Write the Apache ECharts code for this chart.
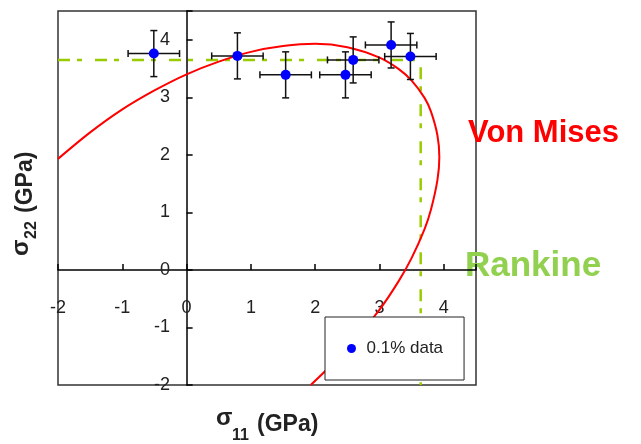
<!DOCTYPE html>
<html><head><meta charset="utf-8">
<script src="https://cdn.jsdelivr.net/npm/echarts@6/dist/echarts.min.js"></script>
<style>html,body{margin:0;padding:0;background:#fff}#c{width:641px;height:444px}</style>
</head><body><div id="c"></div>
<script>
// Measured data (sigma11, sigma22 in GPa) with error bars
const dataX = [-0.51, 0.79, 1.54, 2.47, 2.59, 3.18, 3.48];
const dataY = [3.76, 3.72, 3.39, 3.39, 3.65, 3.91, 3.71];
const errX  = [0.40, 0.40, 0.40, 0.40, 0.40, 0.40, 0.40];
const errY  = [0.40, 0.40, 0.40, 0.40, 0.40, 0.40, 0.40];

// Von Mises curve
const vonMisesX = [-2, -1.5, -1, -0.5, 0, 0.5, 1, 1.5, 2, 2.5, 3, 3.3, 3.5, 3.7, 3.8, 3.9, 3.93, 3.9, 3.8, 3.7, 3.5, 3.3, 3, 2.5, 1.93];
const vonMisesY = [1.93, 2.39, 2.79, 3.12, 3.40, 3.62, 3.79, 3.89, 3.93, 3.87, 3.69, 3.49, 3.29, 2.99, 2.75, 2.34, 1.96, 1.56, 1.05, 0.71, 0.21, -0.19, -0.69, -1.37, -2.0];

// Rankine criterion
const rankineX = [-2, 3.64, 3.64];
const rankineY = [3.65, 3.65, -2];

const legendName = '0.1% data';
const FONT = '"Liberation Sans", Arial, sans-serif';

const scatterData = dataX.map((x, i) => [x, dataY[i]]);
const errData = dataX.map((x, i) => [x, dataY[i], errX[i], errY[i]]);
const vmData = vonMisesX.map((x, i) => [x, vonMisesY[i]]);
const rkData = rankineX.map((x, i) => [x, rankineY[i]]);

const chart = echarts.init(document.getElementById('c'), null, {renderer: 'canvas'});
const intFmt = v => Number.isInteger(v) ? String(v) : '';

chart.setOption({
  animation: false,
  backgroundColor: '#fff',
  grid: {left: 58, right: 165, top: 11, bottom: 59, show: true, borderColor: '#333', borderWidth: 1.5, backgroundColor: 'transparent'},
  xAxis: {
    type: 'value', min: -2, max: 4.5, interval: 1,
    axisLine: {onZero: true, lineStyle: {color: '#000', width: 1.5}},
    axisTick: {inside: true, length: 6, lineStyle: {color: '#000', width: 1.5}},
    axisLabel: {margin: -86, fontSize: 18, color: '#222', fontFamily: FONT, formatter: intFmt},
    splitLine: {show: false}
  },
  yAxis: {
    type: 'value', min: -2, max: 4.5, interval: 1,
    axisLine: {onZero: true, lineStyle: {color: '#000', width: 1.5}},
    axisTick: {inside: true, length: 6, lineStyle: {color: '#000', width: 1.5}},
    axisLabel: {margin: -112, fontSize: 18, color: '#222', fontFamily: FONT, formatter: intFmt},
    splitLine: {show: false}
  },
  legend: {
    data: [legendName], left: 325, top: 317, icon: 'circle',
    itemWidth: 20, itemHeight: 9, padding: [23, 21, 23, 22],
    borderColor: '#222', borderWidth: 1, backgroundColor: '#fff', borderRadius: 0,
    textStyle: {fontSize: 17, color: '#222', fontFamily: FONT},
    selectedMode: false
  },
  series: [
    {
      type: 'line', name: 'Rankine', data: rkData, symbol: 'none', z: 1,
      lineStyle: {color: '#99cc00', width: 2.5, type: [12, 7, 5, 13]}
    },
    {
      type: 'line', name: 'Von Mises', data: vmData, symbol: 'none', smooth: 0.3, z: 1,
      lineStyle: {color: '#ff0000', width: 2}
    },
    {
      type: 'custom', name: 'err', data: errData, z: 2,
      renderItem: function (params, api) {
        const x = api.value(0), y = api.value(1), ex = api.value(2), ey = api.value(3);
        const l = api.coord([x - ex, y]), r = api.coord([x + ex, y]);
        const t = api.coord([x, y + ey]), b = api.coord([x, y - ey]);
        const c = 3.5;
        const st = {stroke: '#111', lineWidth: 1.5};
        return {type: 'group', children: [
          {type: 'line', shape: {x1: l[0], y1: l[1], x2: r[0], y2: r[1]}, style: st},
          {type: 'line', shape: {x1: l[0], y1: l[1] - c, x2: l[0], y2: l[1] + c}, style: st},
          {type: 'line', shape: {x1: r[0], y1: r[1] - c, x2: r[0], y2: r[1] + c}, style: st},
          {type: 'line', shape: {x1: t[0], y1: t[1], x2: b[0], y2: b[1]}, style: st},
          {type: 'line', shape: {x1: t[0] - c, y1: t[1], x2: t[0] + c, y2: t[1]}, style: st},
          {type: 'line', shape: {x1: b[0] - c, y1: b[1], x2: b[0] + c, y2: b[1]}, style: st}
        ]};
      }
    },
    {
      type: 'scatter', name: legendName, data: scatterData, symbol: 'circle', symbolSize: 10, z: 3,
      itemStyle: {color: '#0000ff', opacity: 1}
    }
  ],
  graphic: [
    {type: 'text', x: 468, y: 133, style: {text: 'Von Mises', fontSize: 31, fontWeight: 'bold', fontFamily: FONT, fill: '#ff0000', align: 'left', verticalAlign: 'middle'}},
    {type: 'text', x: 465, y: 266, style: {text: 'Rankine', fontSize: 35, fontWeight: 'bold', fontFamily: FONT, fill: '#92d050', align: 'left', verticalAlign: 'middle'}},
    // x axis title
    {type: 'text', x: 216, y: 418, style: {text: 'σ', fontSize: 24, fontWeight: 'bold', fontFamily: FONT, fill: '#222', align: 'left', verticalAlign: 'middle'}},
    {type: 'text', x: 232, y: 436, style: {text: '11', fontSize: 16, fontWeight: 'bold', fontFamily: FONT, fill: '#222', align: 'left', verticalAlign: 'middle'}},
    {type: 'text', x: 257, y: 425, style: {text: '(GPa)', fontSize: 23, fontWeight: 'bold', fontFamily: FONT, fill: '#222', align: 'left', verticalAlign: 'middle'}},
    // y axis title (rotated)
    {type: 'text', x: 21, y: 256, rotation: Math.PI / 2, style: {text: 'σ', fontSize: 24, fontWeight: 'bold', fontFamily: FONT, fill: '#222', align: 'left', verticalAlign: 'middle'}},
    {type: 'text', x: 32, y: 239, rotation: Math.PI / 2, style: {text: '22', fontSize: 16, fontWeight: 'bold', fontFamily: FONT, fill: '#222', align: 'left', verticalAlign: 'middle'}},
    {type: 'text', x: 26, y: 213, rotation: Math.PI / 2, style: {text: '(GPa)', fontSize: 23, fontWeight: 'bold', fontFamily: FONT, fill: '#222', align: 'left', verticalAlign: 'middle'}}
  ]
});
</script></body></html>
